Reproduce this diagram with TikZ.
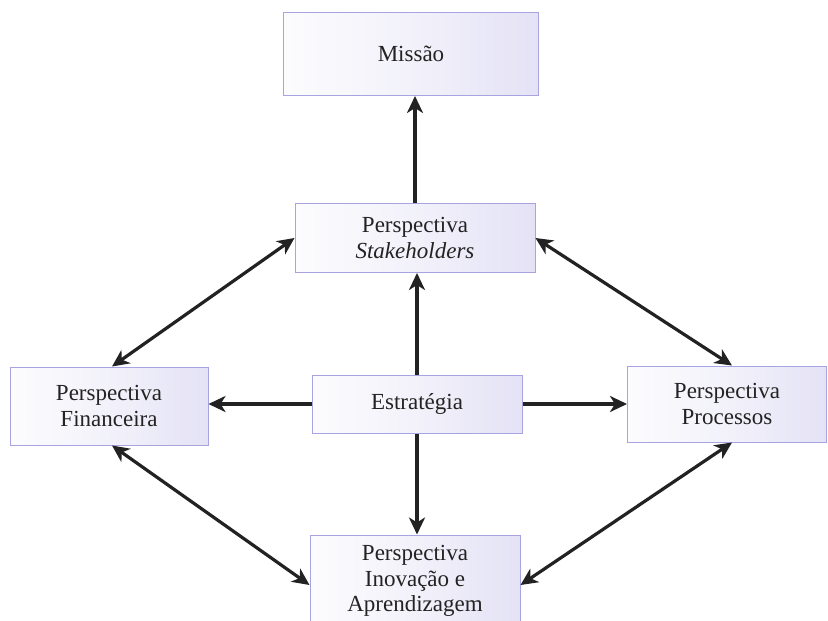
\documentclass[tikz,border=0pt]{standalone}
\usepackage{fontspec}
\setmainfont{Liberation Serif}
\usetikzlibrary{arrows.meta}
\definecolor{boxline}{RGB}{168,164,226}
\definecolor{boxleft}{RGB}{252,252,254}
\definecolor{boxright}{RGB}{228,226,245}
\definecolor{ink}{RGB}{35,35,35}
\definecolor{arrowink}{RGB}{34,34,34}
\begin{document}
\begin{tikzpicture}[x=1pt,y=-1pt,
  pbox/.style={draw=boxline, line width=1pt, left color=boxleft, right color=boxright,
    middle color=boxleft!60!boxright, text=ink, align=center, inner sep=0pt,
    font=\fontsize{23}{25.5}\selectfont},
  tip/.style={},
  link/.style={draw=arrowink, line width=3.2pt,
    -{Stealth[length=17pt,width=16pt,inset=5pt]}},
  dlink/.style={link, {Stealth[length=17pt,width=16pt,inset=5pt]}-{Stealth[length=17pt,width=16pt,inset=5pt]}}]
\useasboundingbox (0,0) rectangle (828,621);
\fill[white] (0,0) rectangle (828,621);

\node[pbox, minimum width=255pt, minimum height=83pt] (mis) at (411,54) {Missão};
\node[pbox, minimum width=240pt, minimum height=69pt] (stk) at (415,238) {Perspectiva\\\textit{Stakeholders}};
\node[pbox, minimum width=198pt, minimum height=78pt] (fin) at (109,406) {Perspectiva\\Financeira};
\node[pbox, minimum width=210pt, minimum height=58pt] (est) at (417,404) {Estratégia};
\node[pbox, minimum width=199pt, minimum height=76pt] (pro) at (727,404) {Perspectiva\\Processos};
\node[pbox, minimum width=210pt, minimum height=92pt] (ino) at (415,581) {Perspectiva\\Inovação e\\Aprendizagem};

% vertical links
\draw[link] (stk.north) -- (stk.north |- mis.south);
\draw[link] (est.north) -- (est.north |- stk.south);
\draw[link] (est.south) -- (est.south |- ino.north);
% horizontal links
\draw[link] (est.west) -- (fin.east |- est.west);
\draw[link] (est.east) -- (pro.west |- est.east);
% diagonal two-way links
\draw[dlink] ([xshift=3pt]fin.north) -- (stk.west);
\draw[dlink] (stk.east) -- ([xshift=5pt]pro.north);
\draw[dlink] ([xshift=3pt]fin.south) -- ([yshift=-4pt]ino.west);
\draw[dlink] ([xshift=5pt]pro.south) -- ([yshift=-4pt]ino.east);
\end{tikzpicture}
\end{document}
